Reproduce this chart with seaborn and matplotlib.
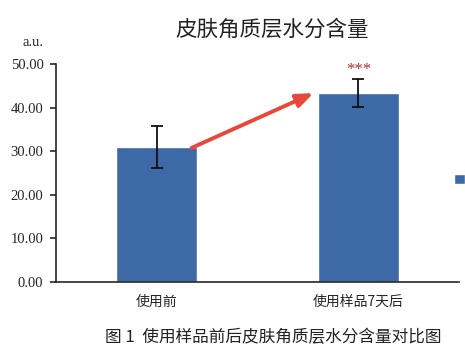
import matplotlib
matplotlib.use("Agg")
import matplotlib.pyplot as plt
from matplotlib.patches import Patch
import numpy as np
import pandas as pd
import seaborn as sns

groups = ['使用前', '使用样品7天后']
means = [30.9, 43.3]
sds = [4.8, 3.2]
yticks = [0, 10, 20, 30, 40, 50]

sns.set_style("ticks")
plt.rcParams['font.family'] = ['Noto Sans CJK SC', 'DejaVu Sans']

df = pd.DataFrame({'group': groups, 'value': means})

fig = plt.figure(figsize=(4.65, 3.52), dpi=100)
ax = fig.add_axes([0.1204, 0.199, 0.867, 0.619])
sns.barplot(data=df, x='group', y='value', color='#3d6aa6', saturation=1,
            width=0.4, errorbar=None, ax=ax)
ax.errorbar(np.arange(len(groups)), means, yerr=sds, fmt='none',
            ecolor='#111111', elinewidth=1.3, capsize=4, capthick=1.3)

ax.set_xlim(-0.5, 1.5)
ax.set_ylim(0, 50)
ax.set_yticks(yticks)
ax.set_yticklabels(['%.2f' % t for t in yticks], family='Liberation Serif', fontsize=10.5)
ax.tick_params(axis='y', length=4, width=1.2, direction='out', pad=5)
ax.tick_params(axis='x', length=0, pad=9)
for lab in ax.get_xticklabels():
    lab.set_fontsize(10)
ax.set_xlabel('')
ax.set_ylabel('')
sns.despine(ax=ax)
ax.spines['left'].set_linewidth(1.2)
ax.spines['bottom'].set_linewidth(1.2)

# red arrow and significance marker
ax.annotate('', xy=(0.79, 43.6), xytext=(0.16, 30.5),
            arrowprops=dict(arrowstyle='-|>,head_length=1.0,head_width=0.4',
                            color='#e8483a', lw=2.8))
ax.text(1, means[1] + sds[1] + 0.3, '***', color='#b03030', ha='center',
        va='bottom', fontsize=12, family='Liberation Serif')

fig.text(0.585, 0.915, '皮肤角质层水分含量', ha='center', va='center', fontsize=15.5,
         color='#222222')
fig.text(0.072, 0.88, 'a.u.', ha='center', va='center', fontsize=10.5,
         family='Liberation Serif')
fig.text(0.587, 0.042, '图 1  使用样品前后皮肤角质层水分含量对比图', ha='center',
         va='center', fontsize=12, color='#222222')

fig.legend(handles=[Patch(facecolor='#3d6aa6', label='使用前后')],
           loc='center left', bbox_to_anchor=(0.952, 0.49), frameon=False,
           handlelength=0.9, handleheight=0.9, handletextpad=0.4, fontsize=9)

fig.savefig('out.png', dpi=100)
